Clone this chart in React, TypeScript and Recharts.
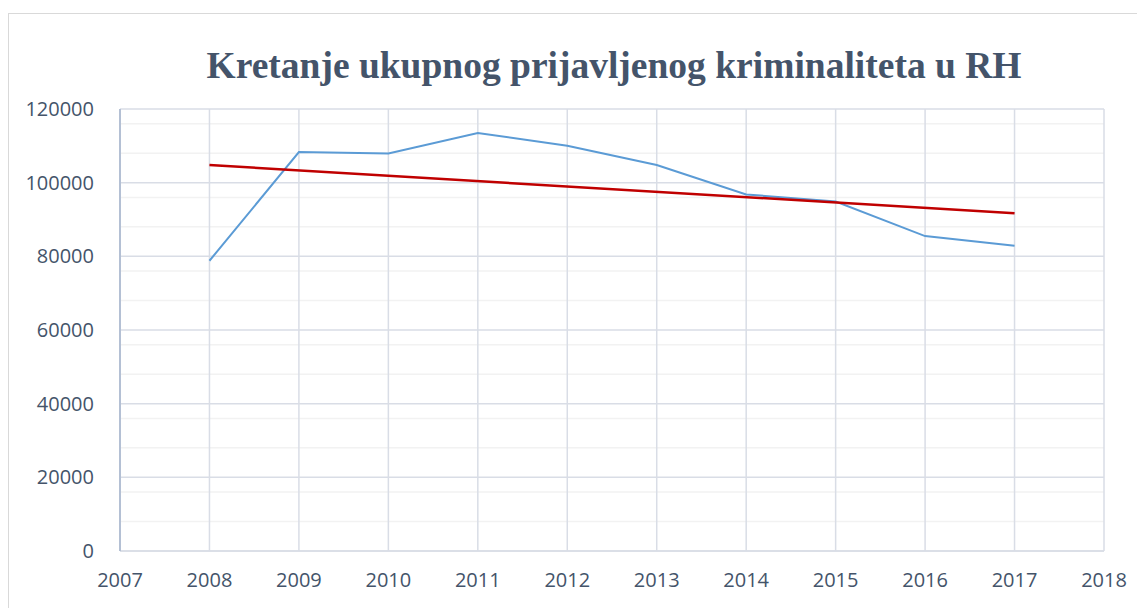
import React from 'react';
import { LineChart, Line, XAxis, YAxis, CartesianGrid } from 'recharts';

const years = [2008, 2009, 2010, 2011, 2012, 2013, 2014, 2015, 2016, 2017];
const reported = [78800, 108300, 107900, 113500, 110000, 104800, 96800, 94900, 85500, 82900];
// linear trendline, only its two end values are read
const trendEnds = [104800, null, null, null, null, null, null, null, null, 91700];

const xTicks = [2007, 2008, 2009, 2010, 2011, 2012, 2013, 2014, 2015, 2016, 2017, 2018];
const yTicks = [0, 20000, 40000, 60000, 80000, 100000, 120000];
const yMinor = [4000, 8000, 12000, 16000, 24000, 28000, 32000, 36000, 44000, 48000, 52000, 56000,
  64000, 68000, 72000, 76000, 84000, 88000, 92000, 96000, 104000, 108000, 112000, 116000];

const data = years.map((year, i) => ({ year, reported: reported[i], trend: trendEnds[i] }));

const tickStyle = { fill: '#44546a', fontSize: 20, fontFamily: '"Open Sans", sans-serif' };

export default function App() {
  return (
    <div style={{ position: 'relative', marginTop: 5, width: 1136, height: 600, borderLeft: '1px solid #d9d9d9', borderTop: '1px solid #d9d9d9' }}>
      <div style={{ position: 'absolute', left: 0, width: 1210, top: 30, textAlign: 'center', fontFamily: '"Liberation Serif", "Times New Roman", serif', fontWeight: 'bold', fontSize: 37.5, color: '#44546a' }}>
        Kretanje ukupnog prijavljenog kriminaliteta u RH
      </div>
      <LineChart width={1133} height={600} data={data} margin={{ top: 95, right: 38, left: 0, bottom: 13 }}>
        <CartesianGrid horizontalValues={yMinor} vertical={false} stroke="#f2f2f2" strokeWidth={1.5} />
        <CartesianGrid stroke="#d9dde6" strokeWidth={1.5} />
        <XAxis
          dataKey="year"
          type="number"
          domain={[2007, 2018]}
          ticks={xTicks}
          tickLine={false}
          axisLine={{ stroke: '#d9dde6', strokeWidth: 1.5 }}
          tick={tickStyle}
          tickMargin={16}
          height={50}
        />
        <YAxis
          domain={[0, 120000]}
          ticks={yTicks}
          tickLine={false}
          axisLine={{ stroke: '#b4c0d4', strokeWidth: 2 }}
          tick={tickStyle}
          tickMargin={20}
          width={111}
        />
        <Line dataKey="reported" stroke="#5b9bd5" strokeWidth={2} dot={false} isAnimationActive={false} />
        <Line dataKey="trend" stroke="#c00000" strokeWidth={2.5} dot={false} connectNulls isAnimationActive={false} />
      </LineChart>
    </div>
  );
}
